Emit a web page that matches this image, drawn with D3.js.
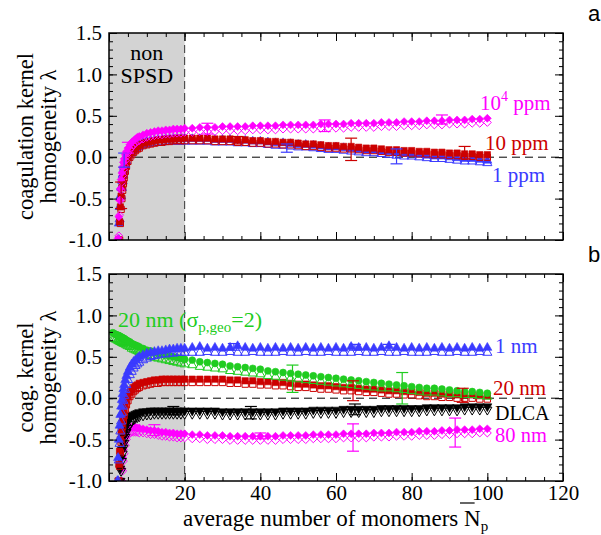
<!DOCTYPE html>
<html><head><meta charset="utf-8">
<script src="https://cdn.jsdelivr.net/npm/d3@7"></script>
<style>body{margin:0;background:#fff}svg{display:block}</style>
</head><body>
<svg id="c" width="601" height="535"></svg>
<script>
// ---------- data ----------
const N = [1.0,1.4,1.8,2.2,2.4,2.6,2.8,3.0,3.2,3.4,3.6,3.8,4.0,4.3,4.6,5.0,5.5,6,6.5,7,7.5,8,9,10,11,12,13,14,15,16,17,18,19,20,
  22,24,26,28,30,32,34,36,38,40,42,44,46,48,50,52,54,56,58,60,62,64,66,68,70,72,74,76,78,80,82,84,86,88,90,92,94,96,98,100];
const xTickLabels = [20,40,60,80,100,120];
const yTickLabels = [-1.0,-0.5,0.0,0.5,1.0,1.5];

// panel a
const ppm1Filled = [null,null,null,null,-1.0,-0.8,-0.6,-0.47,-0.36,-0.28,-0.21,-0.15,-0.11,-0.05,-0.01,0.03,0.07,0.1,0.12,0.14,0.15,0.16,0.18,0.19,0.2,0.2,0.21,0.21,0.22,0.22,0.22,0.22,0.22,0.22,
  0.22,0.22,0.22,0.21,0.21,0.21,0.20,0.20,0.19,0.19,0.18,0.17,0.17,0.16,0.15,0.15,0.14,0.13,0.12,0.12,0.11,0.10,0.09,0.08,0.08,0.07,0.06,0.05,0.04,0.04,0.03,0.02,0.01,0.01,0.00,-0.01,-0.02,-0.02,-0.03,-0.04];
const ppm1Open = [null,null,null,null,null,-1.0,-0.75,-0.6,-0.47,-0.37,-0.29,-0.22,-0.17,-0.1,-0.05,-0.01,0.03,0.06,0.09,0.11,0.12,0.13,0.15,0.16,0.17,0.17,0.18,0.18,0.19,0.19,0.19,0.19,0.19,0.19,
  0.19,0.19,0.19,0.18,0.18,0.18,0.17,0.17,0.16,0.16,0.15,0.14,0.14,0.13,0.12,0.12,0.11,0.10,0.09,0.09,0.08,0.07,0.06,0.05,0.05,0.04,0.03,0.02,0.01,0.01,0.00,-0.01,-0.02,-0.02,-0.03,-0.04,-0.05,-0.05,-0.06,-0.07];
const ppm10Filled = [null,null,null,null,null,-1.0,-0.78,-0.6,-0.47,-0.37,-0.29,-0.22,-0.17,-0.1,-0.05,0.0,0.04,0.07,0.1,0.12,0.13,0.15,0.17,0.18,0.19,0.2,0.21,0.21,0.22,0.22,0.22,0.23,0.23,0.23,
  0.23,0.23,0.23,0.22,0.22,0.22,0.21,0.21,0.20,0.20,0.19,0.19,0.18,0.18,0.17,0.16,0.16,0.15,0.14,0.14,0.13,0.13,0.12,0.11,0.11,0.10,0.09,0.09,0.08,0.08,0.07,0.07,0.06,0.06,0.05,0.05,0.04,0.04,0.03,0.03];
const ppm10Open = [null,null,null,null,null,null,-1.0,-0.8,-0.63,-0.5,-0.4,-0.32,-0.25,-0.17,-0.11,-0.05,0.0,0.03,0.06,0.08,0.1,0.11,0.14,0.15,0.16,0.17,0.18,0.18,0.19,0.19,0.2,0.2,0.2,0.2,
  0.20,0.20,0.20,0.19,0.19,0.19,0.18,0.18,0.17,0.17,0.16,0.16,0.15,0.15,0.14,0.13,0.13,0.12,0.11,0.11,0.10,0.10,0.09,0.08,0.08,0.07,0.06,0.06,0.05,0.05,0.04,0.04,0.03,0.03,0.02,0.02,0.01,0.01,0.00,0.00];
const ppm1e4Filled = [null,null,null,null,-0.98,-0.72,-0.52,-0.38,-0.27,-0.19,-0.12,-0.06,-0.02,0.03,0.07,0.11,0.15,0.18,0.2,0.22,0.24,0.25,0.27,0.29,0.3,0.31,0.32,0.32,0.33,0.33,0.34,0.34,0.34,0.35,
  0.35,0.36,0.36,0.36,0.37,0.37,0.37,0.37,0.38,0.38,0.38,0.38,0.39,0.39,0.39,0.39,0.39,0.40,0.40,0.40,0.40,0.41,0.41,0.41,0.41,0.42,0.42,0.42,0.43,0.43,0.43,0.44,0.44,0.44,0.45,0.45,0.45,0.46,0.46,0.47];
const ppm1e4Open = [null,null,null,null,null,-0.95,-0.7,-0.52,-0.4,-0.3,-0.22,-0.15,-0.1,-0.04,0.01,0.05,0.09,0.12,0.15,0.17,0.19,0.2,0.22,0.24,0.25,0.26,0.27,0.27,0.28,0.28,0.29,0.29,0.29,0.30,
  0.30,0.31,0.31,0.31,0.32,0.32,0.32,0.32,0.33,0.33,0.33,0.33,0.34,0.34,0.34,0.34,0.34,0.35,0.35,0.35,0.35,0.36,0.36,0.36,0.36,0.37,0.37,0.37,0.38,0.38,0.38,0.39,0.39,0.39,0.40,0.40,0.40,0.41,0.41,0.42];

// panel b
const nm1Filled = [null,null,null,-1.0,-0.72,-0.5,-0.33,-0.2,-0.1,-0.02,0.05,0.11,0.16,0.22,0.27,0.32,0.37,0.41,0.44,0.46,0.48,0.5,0.52,0.54,0.55,0.56,0.57,0.57,0.58,0.59,0.59,0.6,0.6,0.6,
  0.61,0.62,0.60,0.61,0.60,0.61,0.63,0.61,0.60,0.61,0.60,0.61,0.60,0.61,0.60,0.61,0.60,0.61,0.60,0.61,0.60,0.62,0.61,0.61,0.60,0.61,0.63,0.61,0.60,0.61,0.60,0.61,0.60,0.61,0.60,0.61,0.60,0.61,0.60,0.61];
const nm1Open = [null,null,null,null,-1.0,-0.75,-0.55,-0.4,-0.28,-0.18,-0.1,-0.03,0.03,0.1,0.16,0.22,0.28,0.32,0.36,0.39,0.41,0.43,0.46,0.48,0.5,0.51,0.52,0.53,0.53,0.54,0.54,0.55,0.55,0.55,
  0.55,0.55,0.56,0.55,0.55,0.56,0.55,0.55,0.56,0.55,0.55,0.55,0.56,0.55,0.55,0.56,0.55,0.55,0.56,0.55,0.55,0.55,0.56,0.55,0.55,0.56,0.55,0.55,0.56,0.55,0.55,0.55,0.56,0.55,0.55,0.56,0.55,0.55,0.56,0.55];
const nm20sgFilled = [0.79,0.78,0.77,0.76,0.76,0.75,0.75,0.74,0.74,0.73,0.73,0.72,0.72,0.71,0.70,0.69,0.68,0.66,0.65,0.64,0.63,0.62,0.6,0.58,0.57,0.55,0.54,0.53,0.52,0.51,0.50,0.49,0.48,0.47,
  0.46,0.44,0.43,0.42,0.41,0.39,0.38,0.37,0.36,0.35,0.33,0.32,0.31,0.30,0.29,0.28,0.27,0.26,0.25,0.24,0.23,0.22,0.21,0.20,0.19,0.18,0.17,0.16,0.15,0.14,0.13,0.12,0.12,0.11,0.10,0.09,0.08,0.08,0.07,0.06];
const nm20sgOpen = [0.72,0.72,0.71,0.70,0.70,0.69,0.69,0.68,0.68,0.67,0.67,0.66,0.66,0.65,0.64,0.63,0.62,0.60,0.59,0.58,0.57,0.56,0.54,0.52,0.51,0.49,0.48,0.47,0.46,0.45,0.44,0.43,0.42,0.41,
  0.40,0.38,0.37,0.36,0.35,0.33,0.32,0.31,0.30,0.29,0.27,0.26,0.25,0.24,0.23,0.22,0.21,0.20,0.19,0.18,0.17,0.16,0.15,0.14,0.13,0.12,0.12,0.11,0.10,0.09,0.08,0.07,0.07,0.06,0.05,0.05,0.04,0.04,0.03,0.02];
const nm20Filled = [null,null,null,null,-1.0,-0.8,-0.64,-0.5,-0.4,-0.31,-0.24,-0.18,-0.13,-0.07,-0.02,0.02,0.07,0.1,0.13,0.15,0.16,0.18,0.19,0.2,0.21,0.22,0.22,0.23,0.23,0.23,0.23,0.23,0.23,0.23,
  0.23,0.23,0.23,0.23,0.23,0.22,0.22,0.21,0.21,0.20,0.20,0.19,0.19,0.18,0.17,0.17,0.16,0.15,0.15,0.14,0.13,0.13,0.12,0.11,0.11,0.10,0.09,0.09,0.08,0.08,0.07,0.06,0.06,0.05,0.05,0.04,0.04,0.04,0.03,0.03];
const nm20Open = [null,null,null,null,null,-1.0,-0.82,-0.66,-0.53,-0.42,-0.34,-0.27,-0.21,-0.14,-0.08,-0.03,0.02,0.05,0.08,0.1,0.12,0.13,0.15,0.16,0.17,0.18,0.18,0.19,0.19,0.19,0.19,0.19,0.19,0.19,
  0.19,0.19,0.19,0.19,0.19,0.18,0.18,0.17,0.17,0.16,0.16,0.15,0.15,0.14,0.13,0.13,0.12,0.11,0.11,0.10,0.09,0.09,0.08,0.07,0.07,0.06,0.05,0.05,0.04,0.04,0.03,0.02,0.02,0.01,0.01,0.00,0.00,0.00,-0.01,-0.01];
const dlcaFilled = [null,null,null,null,null,null,-1.0,-0.85,-0.72,-0.62,-0.54,-0.47,-0.42,-0.36,-0.31,-0.27,-0.24,-0.21,-0.2,-0.19,-0.18,-0.17,-0.16,-0.16,-0.15,-0.15,-0.15,-0.15,-0.15,-0.15,-0.15,-0.15,-0.15,-0.15,
  -0.15,-0.15,-0.15,-0.15,-0.16,-0.16,-0.16,-0.16,-0.16,-0.16,-0.16,-0.16,-0.15,-0.15,-0.15,-0.15,-0.14,-0.14,-0.14,-0.14,-0.13,-0.13,-0.13,-0.13,-0.13,-0.12,-0.12,-0.12,-0.12,-0.12,-0.12,-0.11,-0.11,-0.11,-0.11,-0.11,-0.10,-0.10,-0.10,-0.10];
const dlcaOpen = [null,null,null,null,null,null,null,-1.0,-0.88,-0.76,-0.67,-0.6,-0.54,-0.47,-0.41,-0.36,-0.31,-0.28,-0.26,-0.24,-0.23,-0.22,-0.21,-0.2,-0.2,-0.19,-0.19,-0.19,-0.19,-0.19,-0.19,-0.19,-0.19,-0.19,
  -0.19,-0.19,-0.19,-0.19,-0.20,-0.20,-0.20,-0.20,-0.20,-0.20,-0.20,-0.20,-0.19,-0.19,-0.19,-0.19,-0.18,-0.18,-0.18,-0.18,-0.17,-0.17,-0.17,-0.17,-0.17,-0.16,-0.16,-0.16,-0.16,-0.16,-0.16,-0.15,-0.15,-0.15,-0.15,-0.15,-0.14,-0.14,-0.14,-0.14];
const nm80Filled = [null,null,null,null,null,null,null,null,-1.0,-0.85,-0.72,-0.62,-0.54,-0.46,-0.41,-0.37,-0.35,-0.35,-0.35,-0.35,-0.36,-0.36,-0.37,-0.38,-0.39,-0.39,-0.4,-0.41,-0.41,-0.42,-0.42,-0.43,-0.43,-0.43,
  -0.44,-0.44,-0.45,-0.45,-0.45,-0.46,-0.46,-0.46,-0.46,-0.46,-0.46,-0.46,-0.45,-0.45,-0.45,-0.45,-0.44,-0.44,-0.44,-0.44,-0.43,-0.43,-0.43,-0.43,-0.42,-0.42,-0.42,-0.41,-0.41,-0.41,-0.40,-0.40,-0.40,-0.39,-0.39,-0.38,-0.38,-0.38,-0.37,-0.37];
const nm80Open = [null,null,null,null,null,null,null,null,null,-1.0,-0.88,-0.76,-0.67,-0.57,-0.5,-0.45,-0.42,-0.41,-0.41,-0.41,-0.41,-0.42,-0.42,-0.43,-0.44,-0.44,-0.45,-0.46,-0.46,-0.47,-0.47,-0.48,-0.48,-0.48,
  -0.49,-0.49,-0.50,-0.50,-0.50,-0.51,-0.51,-0.51,-0.51,-0.51,-0.51,-0.51,-0.50,-0.50,-0.50,-0.50,-0.49,-0.49,-0.49,-0.49,-0.48,-0.48,-0.48,-0.48,-0.47,-0.47,-0.47,-0.46,-0.46,-0.46,-0.45,-0.45,-0.45,-0.44,-0.44,-0.43,-0.43,-0.43,-0.42,-0.42];

// error bars: [N, low, high]
const errPpm1 = [[4.0,-0.12,0.05],[47,0.06,0.16],[76,-0.08,0.10]];
const errPpm10 = [[3.2,-0.62,-0.3],[34,0.16,0.25],[64,-0.04,0.23],[94,-0.02,0.13]];
const errPpm1e4 = [[5.0,0.05,0.18],[26,0.28,0.41],[57,0.31,0.45],[88,0.40,0.51]];
const errNm1 = [[33,0.58,0.66],[65,0.58,0.65],[74,0.58,0.65]];
const errNm20sg = [[48.5,0.07,0.40],[77.5,-0.07,0.31]];
const errNm20 = [[64.5,-0.03,0.21],[93.5,-0.05,0.12]];
const errDlca = [[17,-0.2,-0.1],[37.5,-0.25,-0.10],[65,-0.2,-0.07]];
const errNm80 = [[12,-0.45,-0.32],[40,-0.49,-0.42],[64.5,-0.64,-0.31],[91.5,-0.59,-0.24]];

// ---------- drawing ----------
const svg = d3.select('#c');
const SERIF = "'Liberation Serif','Times New Roman',serif";
const C = {blue:'#3a3aff', red:'#cc0000', mag:'#ff00ff', green:'#20cc20', black:'#000'};
const x = d3.scaleLinear().domain([0,120]).range([109,563]);
const panels = [
  {top:33, bot:240, id:'a'},
  {top:274, bot:481, id:'b'}
];
panels.forEach(p => p.y = d3.scaleLinear().domain([-1,1.5]).range([p.bot,p.top]));

const shapes = {
  up: {t:d3.symbolTriangle, s:36, r:0},
  down: {t:d3.symbolTriangle, s:36, r:180},
  square: {t:d3.symbolSquare, s:40, r:0},
  diamond: {t:d3.symbolDiamond2, s:40, r:0},
  circle: {t:d3.symbolCircle, s:38, r:0}
};

function series(g, p, vals, color, shape, filled) {
  const sh = shapes[shape];
  const sym = d3.symbol().type(sh.t).size(sh.s);
  const data = N.map((n,i)=>[n, vals[i]]).filter(d => d[1] != null && d[1] !== undefined);
  g.append('g').selectAll('path').data(data).join('path')
    .attr('transform', d => `translate(${x(d[0])},${p.y(d[1])}) rotate(${sh.r})`)
    .attr('d', sym)
    .attr('fill', filled ? color : 'none')
    .attr('stroke', color)
    .attr('stroke-width', filled ? 0.6 : 1);
}
function errbars(g, p, arr, color) {
  const gg = g.append('g').attr('stroke', color).attr('stroke-width', 1.2);
  arr.forEach(([n,lo,hi]) => {
    const cx = x(n);
    gg.append('line').attr('x1',cx).attr('x2',cx).attr('y1',p.y(lo)).attr('y2',p.y(hi));
    gg.append('line').attr('x1',cx-6).attr('x2',cx+6).attr('y1',p.y(lo)).attr('y2',p.y(lo));
    gg.append('line').attr('x1',cx-6).attr('x2',cx+6).attr('y1',p.y(hi)).attr('y2',p.y(hi));
  });
}

panels.forEach((p,pi) => {
  const clipId = 'clip'+pi;
  svg.append('clipPath').attr('id',clipId).append('rect')
    .attr('x',109).attr('y',p.top).attr('width',454).attr('height',p.bot-p.top);
  svg.append('rect').attr('x',x(0)).attr('y',p.top).attr('width',x(20)-x(0)).attr('height',p.bot-p.top)
    .attr('fill','#d3d3d3');
  svg.append('line').attr('x1',x(20)).attr('x2',x(20)).attr('y1',p.top).attr('y2',p.bot)
    .attr('stroke','#333').attr('stroke-width',1).attr('stroke-dasharray','8,4');
  svg.append('line').attr('x1',109).attr('x2',563).attr('y1',p.y(0)).attr('y2',p.y(0))
    .attr('stroke','#000').attr('stroke-width',1).attr('stroke-dasharray','8,5');

  const g = svg.append('g').attr('clip-path',`url(#${clipId})`);
  if (pi === 0) {
    series(g,p,ppm1Open,C.blue,'up',false);
    series(g,p,ppm1Filled,C.blue,'up',true);
    series(g,p,ppm10Open,C.red,'square',false);
    series(g,p,ppm10Filled,C.red,'square',true);
    series(g,p,ppm1e4Open,C.mag,'diamond',false);
    series(g,p,ppm1e4Filled,C.mag,'diamond',true);
    errbars(g,p,errPpm1,C.blue);
    errbars(g,p,errPpm10,C.red);
    errbars(g,p,errPpm1e4,C.mag);
  } else {
    series(g,p,nm80Open,C.mag,'diamond',false);
    series(g,p,nm80Filled,C.mag,'diamond',true);
    series(g,p,dlcaOpen,C.black,'down',false);
    series(g,p,dlcaFilled,C.black,'down',true);
    series(g,p,nm20Open,C.red,'square',false);
    series(g,p,nm20Filled,C.red,'square',true);
    series(g,p,nm20sgOpen,C.green,'up',false);
    series(g,p,nm20sgFilled,C.green,'circle',true);
    series(g,p,nm1Open,C.blue,'up',false);
    series(g,p,nm1Filled,C.blue,'up',true);
    errbars(g,p,errNm80,C.mag);
    errbars(g,p,errDlca,C.black);
    errbars(g,p,errNm20,C.red);
    errbars(g,p,errNm20sg,C.green);
    errbars(g,p,errNm1,C.blue);
  }

  const xMajor = d3.range(0,121,20), xMinor = d3.range(0,121,5);
  const yMajor = yTickLabels, yMinor = d3.range(-10,16,1).map(v=>v/10);
  function ax(gen, tr, vals, size, labels) {
    const a = gen.tickValues(vals).tickSize(size).tickSizeOuter(0);
    if (!labels) a.tickFormat('');
    const gg = svg.append('g').attr('transform',tr).call(a);
    gg.select('.domain').remove();
    gg.selectAll('line').attr('stroke','#000').attr('stroke-width',1);
    if (!labels) gg.selectAll('text').remove();
    return gg;
  }
  ax(d3.axisBottom(x), `translate(0,${p.bot})`, xMinor, -4, false);
  if (pi===1) {
    const xb = ax(d3.axisBottom(x).tickPadding(4), `translate(0,${p.bot})`, xMajor, -8, true);
    xb.selectAll('text').attr('font-family',SERIF).attr('font-size',21).attr('fill','#000')
      .text(d => xTickLabels.includes(d) ? d : '');
    xb.selectAll('text').filter(function(){ return !this.textContent; }).remove();
  } else {
    ax(d3.axisBottom(x), `translate(0,${p.bot})`, xMajor, -8, false);
  }
  ax(d3.axisTop(x), `translate(0,${p.top})`, xMinor, -4, false);
  ax(d3.axisTop(x), `translate(0,${p.top})`, xMajor, -8, false);
  ax(d3.axisLeft(p.y), `translate(109,0)`, yMinor, -4, false);
  const yl = ax(d3.axisLeft(p.y).tickPadding(7), `translate(109,0)`, yMajor, -8, true);
  yl.selectAll('text').attr('font-family',SERIF).attr('font-size',21).attr('fill','#000')
    .text(d => d3.format('.1f')(d).replace('\u2212','-'));
  ax(d3.axisRight(p.y), `translate(563,0)`, yMinor, -4, false);
  ax(d3.axisRight(p.y), `translate(563,0)`, yMajor, -8, false);

  svg.append('rect').attr('x',109).attr('y',p.top).attr('width',454).attr('height',p.bot-p.top)
    .attr('fill','none').attr('stroke','#000').attr('stroke-width',1.5);

  svg.append('text').attr('x',588).attr('y',p.top-12).attr('font-family',"'Liberation Sans',Arial,sans-serif")
    .attr('font-size',22).text(p.id);
});

// y-axis titles
function ytitle(lines, cy) {
  const t = svg.append('text').attr('font-family',SERIF).attr('font-size',22.5)
    .attr('text-anchor','middle').attr('transform',`translate(0,${cy}) rotate(-90)`);
  t.append('tspan').attr('x',0).attr('y',33).text(lines[0]);
  t.append('tspan').attr('x',0).attr('y',56).text(lines[1]);
}
ytitle(['coagulation kernel','homogeneity λ'], 136.5);
ytitle(['coag. kernel','homogeneity λ'], 377.5);

// non SPSD label
svg.append('text').attr('x',x(10)).attr('y',60).attr('text-anchor','middle')
  .attr('font-family',SERIF).attr('font-size',22).text('non');
svg.append('text').attr('x',x(10)).attr('y',83).attr('text-anchor','middle')
  .attr('font-family',SERIF).attr('font-size',22).text('SPSD');

function lab(xp, yp, color, parts, fs) {
  const t = svg.append('text').attr('x',xp).attr('y',yp).attr('font-family',SERIF).attr('font-size',fs||21).attr('fill',color);
  parts.forEach(pt => {
    const s = t.append('tspan').text(pt.t);
    if (pt.dy) s.attr('dy',pt.dy);
    if (pt.fs) s.attr('font-size',pt.fs);
  });
}
lab(480,110,C.mag,[{t:'10'},{t:'4',dy:-9,fs:14},{t:' ppm',dy:9}]);
lab(485,150,C.red,[{t:'10 ppm'}]);
lab(492,182,C.blue,[{t:'1 ppm'}]);
lab(118,327,C.green,[{t:'20 nm (σ'},{t:'p,geo',dy:5,fs:15},{t:'=2)',dy:-5}],22);
lab(495,353,C.blue,[{t:'1 nm'}]);
lab(493,395,C.red,[{t:'20 nm'}]);
lab(495,419.5,C.black,[{t:'DLCA'}],20);
lab(495,442,C.mag,[{t:'80 nm'}],20.5);

// x title with overbar on N
const xt = svg.append('text').attr('x',183).attr('y',525.5).attr('font-family',SERIF).attr('font-size',23);
const t1 = xt.append('tspan').text('average number of monomers N');
xt.append('tspan').attr('dy',5).attr('font-size',15).text('p');
const ni = t1.text().length - 1;
const ext = t1.node().getExtentOfChar(ni);
svg.append('line').attr('x1',ext.x - 4).attr('x2',ext.x + ext.width - 6).attr('y1',503).attr('y2',503)
  .attr('stroke','#000').attr('stroke-width',1.2);
</script>
</body></html>
